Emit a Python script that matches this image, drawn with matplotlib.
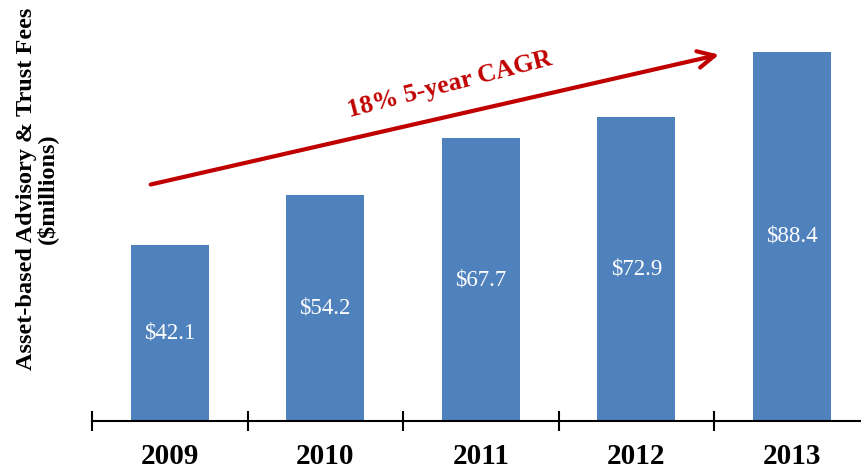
import numpy as np
import matplotlib.pyplot as plt
from matplotlib.ticker import FixedLocator

years = ['2009', '2010', '2011', '2012', '2013']
fees = [42.1, 54.2, 67.7, 72.9, 88.4]
value_labels = ['$42.1', '$54.2', '$67.7', '$72.9', '$88.4']

plt.rcParams['font.family'] = ['Liberation Serif', 'DejaVu Serif']

fig = plt.figure(figsize=(8.61, 4.74), dpi=100)
# axes runs a little past the right edge of the figure, as in the original
ax = fig.add_axes([92 / 861, 53 / 474, 777.5 / 861, 417.5 / 474])

x = np.arange(len(years))
ax.bar(x, fees, width=0.5, color='#4F81BD')

for xi, v, lab in zip(x, fees, value_labels):
    ax.text(xi, v / 2, lab, color='white', fontsize=16.5, ha='center', va='center')

ax.set_xlim(-0.5, 4.5)
ax.set_ylim(0, 100)

for s in ['top', 'right', 'left']:
    ax.spines[s].set_visible(False)
ax.spines['bottom'].set_linewidth(1.5)
ax.set_yticks([])

ax.set_xticks(x)
ax.set_xticklabels(years, fontsize=21, fontweight='bold')
ax.tick_params(axis='x', which='major', length=0, pad=16)
ax.xaxis.set_minor_locator(FixedLocator(np.arange(-0.5, 5, 1.0)))
ax.tick_params(axis='x', which='minor', direction='inout', length=14, width=1.5)

# y label placed on the figure so it is not clipped
fig.text(37 / 861, 1 - 189 / 474, 'Asset-based Advisory & Trust Fees\n($millions)',
         fontsize=17.5, fontweight='bold', rotation=90, ha='center', va='center',
         multialignment='center', linespacing=0.9)

# growth arrow
ax.annotate('', xy=(3.55, 87.9), xytext=(-0.14, 56.5),
            arrowprops=dict(arrowstyle='->,head_length=1.2,head_width=0.6',
                            color='#C00000', lw=3))
ax.text(1.80, 80.5, '18% 5-year CAGR', color='#C00000', fontsize=18.5,
        fontweight='bold', rotation=14.5, ha='center', va='center')

plt.savefig('out.png', dpi=100)
